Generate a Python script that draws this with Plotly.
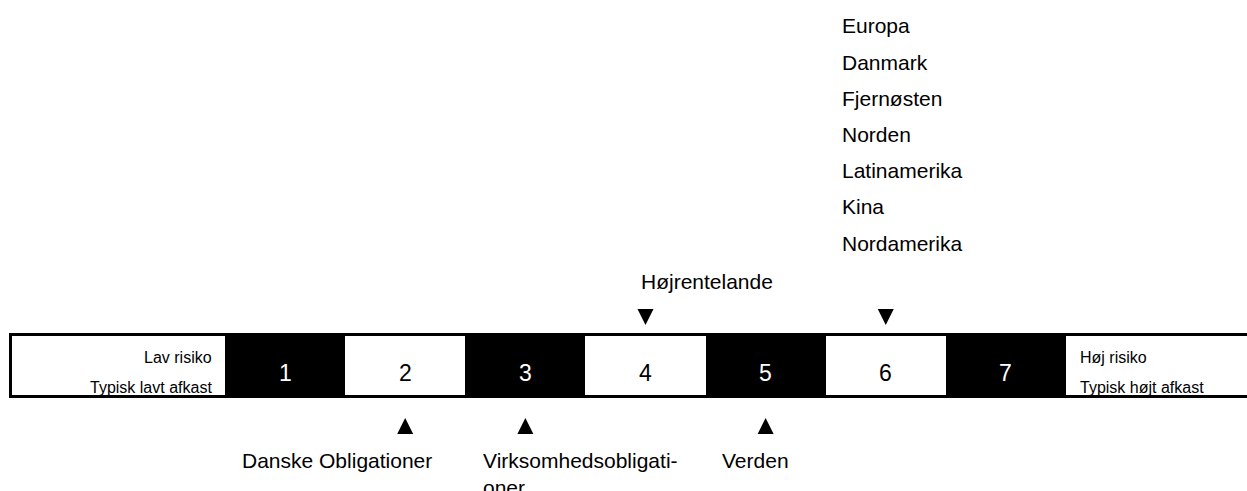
import plotly.graph_objects as go

# ---------------- data ----------------
risk_levels = [1, 2, 3, 4, 5, 6, 7]
level_labels = ["1", "2", "3", "4", "5", "6", "7"]
low_labels = ["Lav risiko", "Typisk lavt afkast"]
high_labels = ["Høj risiko", "Typisk højt afkast"]

fund_names = ["Europa", "Danmark", "Fjernøsten", "Norden", "Latinamerika", "Kina",
              "Nordamerika", "Højrentelande", "Danske Obligationer",
              "Virksomhedsobligati-<br>oner", "Verden"]
fund_levels = [6, 6, 6, 6, 6, 6, 6, 4, 2, 3, 5]

# ---------------- layout helpers ----------------
W, H = 1247, 491
X0, X1 = -1.373, 9.007           # x axis range (cell i centred on x=i, width 1)
BOX_BOTTOM_PX, PX_PER_Y = 396.5, 62.0


def px_x(p):
    return X0 + p / W * (X1 - X0)


def px_y(p):
    return (BOX_BOTTOM_PX - p) / PX_PER_Y


def dx(p):
    return p / W * (X1 - X0)


FONT = "Liberation Sans, Arial, Helvetica, sans-serif"
above_levels = {4, 6}
label_dx_px = {2: -165, 3: -44, 4: -6, 5: -46, 6: -46}
above_bottom_px = {4: 281, 6: 243}
ROW_PX = 36.2

fig = go.Figure()

# risk cells
cell_colors = ["black" if i % 2 == 0 else "white" for i in range(len(risk_levels))]
fig.add_trace(go.Bar(
    x=risk_levels, y=[1] * len(risk_levels), base=0, width=1,
    marker=dict(color=cell_colors, line=dict(width=0)),
    hoverinfo="skip", showlegend=False,
))

# numbers in cells
for lvl, lab, col in zip(risk_levels, level_labels, cell_colors):
    fig.add_annotation(x=lvl, y=px_y(373), text=lab, showarrow=False,
                       xanchor="center", yanchor="middle",
                       font=dict(family=FONT, size=23,
                                 color="white" if col == "black" else "black"))

# outer frame
fig.add_shape(type="rect", xref="x", yref="y", x0=px_x(10.5), x1=X1 + 0.5,
              y0=0, y1=1, line=dict(color="black", width=3), layer="above")

# low / high risk texts
for txt, yp in zip(low_labels, [357, 387]):
    fig.add_annotation(x=px_x(214), y=px_y(yp), text=txt, showarrow=False,
                       xanchor="right", yanchor="middle",
                       font=dict(family=FONT, size=16, color="black"))
for txt, yp in zip(high_labels, [357, 387]):
    fig.add_annotation(x=px_x(1078), y=px_y(yp), text=txt, showarrow=False,
                       xanchor="left", yanchor="middle",
                       font=dict(family=FONT, size=16, color="black"))

# markers
used = sorted(set(fund_levels))
up = [l for l in used if l not in above_levels]
down = [l for l in used if l in above_levels]
fig.add_trace(go.Scatter(
    x=down, y=[px_y(325)] * len(down), mode="markers",
    marker=dict(symbol="arrow-down", size=16, color="black", line=dict(width=0)),
    hoverinfo="skip", showlegend=False, cliponaxis=False))
fig.add_trace(go.Scatter(
    x=up, y=[px_y(418)] * len(up), mode="markers",
    marker=dict(symbol="arrow-up", size=16, color="black", line=dict(width=0)),
    hoverinfo="skip", showlegend=False, cliponaxis=False))

# fund labels
for lvl in used:
    names = [n for n, l in zip(fund_names, fund_levels) if l == lvl]
    xl = lvl + dx(label_dx_px[lvl])
    if lvl in above_levels:
        n = len(names)
        for k, name in enumerate(names):
            yp = above_bottom_px[lvl] - (n - 1 - k) * ROW_PX
            fig.add_annotation(x=xl, y=px_y(yp), text=name, showarrow=False,
                               xanchor="left", yanchor="middle", align="left",
                               font=dict(family=FONT, size=21, color="black"))
    else:
        for name in names:
            fig.add_annotation(x=xl, y=px_y(447), text=name, showarrow=False,
                               xanchor="left", yanchor="top", align="left",
                               font=dict(family=FONT, size=21, color="black"))

fig.update_layout(
    width=W, height=H, autosize=False,
    margin=dict(l=0, r=0, t=0, b=0, pad=0),
    paper_bgcolor="white", plot_bgcolor="white",
    xaxis=dict(range=[X0, X1], visible=False, fixedrange=True),
    yaxis=dict(range=[px_y(H), px_y(0)], visible=False, fixedrange=True),
    showlegend=False, bargap=0,
)

fig.write_html(
    "out.html",
    config={"displayModeBar": False, "staticPlot": True},
    post_script="document.body.style.margin='0';"
                "document.documentElement.style.overflow='hidden';",
)
